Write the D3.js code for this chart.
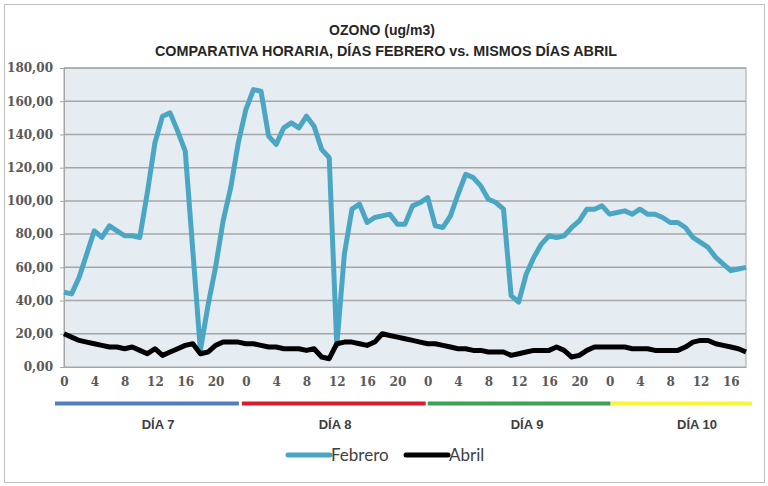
<!DOCTYPE html>
<html><head><meta charset="utf-8">
<script src="https://cdn.jsdelivr.net/npm/d3@7"></script>
<style>body{margin:0;background:#fff}svg{display:block}</style>
</head><body>
<svg id="c" width="768" height="486"></svg>
<script>
const febrero = [45,44,54,68,82,78,85,82,79,79,78,105,135,151,153,142,130,70,10,37,60,88,108,135,
155,167,166,139,134,144,147,144,151,145,131,126,13,68,95,98,87,90,91,92,86,86,97,99,
102,85,84,91,104,116,114,109,101,99,95,43,39,56,66,74,79,78,79,84,88,95,95,97,
92,93,94,92,95,92,92,90,87,87,84,78,75,72,66,62,58,59,60];
const abril = [20,18,16,15,14,13,12,12,11,12,10,8,11,7,9,11,13,14,8,9,13,15,15,15,
14,14,13,12,12,11,11,11,10,11,6,5,14,15,15,14,13,15,20,19,18,17,16,15,
14,14,13,12,11,11,10,10,9,9,9,7,8,9,10,10,10,12,10,6,7,10,12,12,
12,12,12,11,11,11,10,10,10,10,12,15,16,16,14,13,12,11,9];
const hours = febrero.map((d,i)=>i%24);
const days = ["DÍA 7","DÍA 8","DÍA 9","DÍA 10"];
const dayColors = ["#4F7FBC","#D81E2C","#3BA255","#F7F73A"];
const yTicks = [0,20,40,60,80,100,120,140,160,180];
const seriesNames = ["Febrero","Abril"];
const seriesColors = ["#4BA6C4","#000000"];

const svg = d3.select("#c");
svg.append("rect").attr("x",4.5).attr("y",4.5).attr("width",760).attr("height",478)
  .attr("fill","#fff").attr("stroke","#BFBFBF").attr("stroke-width",1);

const L=64, R=746, T=68, B=367;
const x = d3.scaleLinear().domain([0,febrero.length-1]).range([L,R]);
const y = d3.scaleLinear().domain([0,180]).range([B,T]);

svg.append("rect").attr("x",L).attr("y",T).attr("width",R-L).attr("height",B-T)
  .attr("fill","#E6EDF2").attr("stroke","#A6A6A6").attr("stroke-width",1);

svg.append("g").selectAll("line").data(yTicks.filter(v=>v>0)).join("line")
  .attr("x1",L).attr("x2",R).attr("y1",d=>y(d)).attr("y2",d=>y(d))
  .attr("stroke","#A6A6A6").attr("stroke-width",1.5);

const yAxis = d3.axisLeft(y).tickValues(yTicks).tickSize(4)
  .tickFormat(d=>d3.format(".2f")(d).replace(".",","));
const gy = svg.append("g").attr("transform",`translate(${L},0)`).call(yAxis);
gy.select(".domain").attr("stroke","#A6A6A6");
gy.selectAll(".tick line").attr("stroke","#A6A6A6");
gy.selectAll("text").attr("font-family","DejaVu Serif").attr("font-weight","bold")
  .attr("font-size",12).attr("fill","#595959").attr("x",-11);

const xAxis = d3.axisBottom(x).tickValues(d3.range(0,febrero.length).filter(i=>hours[i]%4===0))
  .tickSize(0).tickFormat(i=>hours[i]);
const gx = svg.append("g").attr("transform",`translate(0,${B})`).call(xAxis);
gx.select(".domain").attr("stroke","#A6A6A6");
gx.selectAll("text").attr("font-family","DejaVu Serif").attr("font-weight","bold")
  .attr("font-size",12).attr("fill","#595959").attr("dy","1.35em");

const line = d3.line().x((d,i)=>x(i)).y(d=>y(d));
[febrero,abril].forEach((s,k)=>{
  svg.append("path").datum(s).attr("d",line).attr("fill","none")
    .attr("stroke",seriesColors[k]).attr("stroke-width",5).attr("stroke-linejoin","round");
});

// day bars
const dayStart = [0,24,48,72];
const dayEnd = [24,48,72,febrero.length-1];
const startOff = [-9,-4,0,1], endOff = [-7,-2,1,6];
days.forEach((d,k)=>{
  svg.append("line").attr("x1",x(dayStart[k])+startOff[k]).attr("x2",x(dayEnd[k])+endOff[k])
    .attr("y1",403.5).attr("y2",403.5)
    .attr("stroke",dayColors[k]).attr("stroke-width",4);
});
const dayCenters = [158,335,527,697];
svg.append("g").selectAll("text").data(days).join("text")
  .attr("x",(d,i)=>dayCenters[i]).attr("y",429).attr("text-anchor","middle")
  .attr("font-family","Liberation Sans").attr("font-weight","bold").attr("font-size",13)
  .attr("fill","#404040").text(d=>d);

svg.append("text").attr("x",382).attr("y",35).attr("text-anchor","middle")
  .attr("font-family","Liberation Sans").attr("font-weight","bold").attr("font-size",14)
  .attr("fill","#262626").text("OZONO (ug/m3)");
svg.append("text").attr("x",386).attr("y",56).attr("text-anchor","middle")
  .attr("font-family","Liberation Sans").attr("font-weight","bold").attr("font-size",14)
  .attr("fill","#262626").attr("textLength",462).attr("lengthAdjust","spacingAndGlyphs")
  .text("COMPARATIVA HORARIA, DÍAS FEBRERO vs. MISMOS DÍAS ABRIL");

const lg = [{x:288,tx:331},{x:406,tx:449}];
seriesNames.forEach((n,k)=>{
  svg.append("line").attr("x1",lg[k].x).attr("x2",lg[k].x+42).attr("y1",455).attr("y2",455)
    .attr("stroke",seriesColors[k]).attr("stroke-width",5).attr("stroke-linecap","round");
  svg.append("text").attr("x",lg[k].tx).attr("y",461).attr("font-family","Lato")
    .attr("font-size",17).attr("fill","#404040").text(n);
});
</script>
</body></html>
